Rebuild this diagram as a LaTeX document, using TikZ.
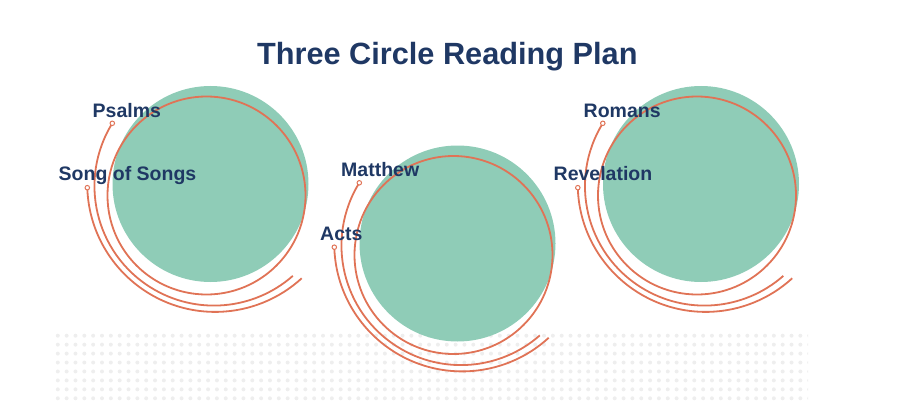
\documentclass[tikz,border=0pt]{standalone}
\usepackage{fontspec}
\setmainfont{Liberation Sans}
\usetikzlibrary{positioning}
\definecolor{NavyText}{HTML}{1F3864}
\definecolor{MintFill}{HTML}{8FCCB7}
\definecolor{CoralLine}{HTML}{E07356}
\definecolor{DotGray}{HTML}{EEEEEE}

\begin{document}
\begin{tikzpicture}[x=1pt, y=1pt,
    every node/.style={inner sep=0pt, text=NavyText, font=\fontsize{19.5}{22}\selectfont\bfseries},
    ring/.style={draw=CoralLine, line width=1.8pt},
    pin/.style={circle, draw=CoralLine, fill=white, line width=1pt, minimum size=4.5pt}]
    \useasboundingbox (0,0) rectangle (897,416);

    % dotted band
    \begin{scope}
        \clip (50,0) rectangle (808,90);
        \foreach \i in {0,...,85}
            \foreach \j in {0,...,7}
                \fill[DotGray] (57.8+8.84*\i, 80.3-8.94*\j) circle[radius=2];
    \end{scope}

    % the three circles
    \foreach \n/\dx/\dy in {1/0/0, 2/247/-59.5, 3/490.5/0} {
        \begin{scope}[shift={(\dx,\dy)}]
            \fill[MintFill] (210.5,232) circle[radius=98];
            \draw[ring] (206.5,220.5) circle[radius=99];
            \coordinate (top\n) at (112.3,292.7);
            \coordinate (low\n) at (87.3,228.3);
            \draw[ring] (top\n) arc[start angle=148.3, end angle=311.3, radius=119.5];
            \draw[ring] (low\n) arc[start angle=181.7, end angle=312.5, radius=128];
            \node[pin] (pinA\n) at (top\n) {};
            \node[pin] (pinB\n) at (low\n) {};
        \end{scope}
    }

    % labels
    \node[font=\fontsize{30.7}{34}\selectfont\bfseries, anchor=base] (title) at (447.3,351) {Three Circle Reading Plan};
    \node[anchor=base west] (psalms) at (92.5,298.7) {Psalms};
    \node[anchor=base west] (song) at (58.5,236) {Song of Songs};
    \node[anchor=base west] (matthew) at (341,239.3) {Matthew};
    \node[anchor=base west] (acts) at (320,176) {Acts};
    \node[anchor=base west] (romans) at (583.5,298.7) {Romans};
    \node[anchor=base west] (revelation) at (553.5,236) {Revelation};
\end{tikzpicture}
\end{document}
